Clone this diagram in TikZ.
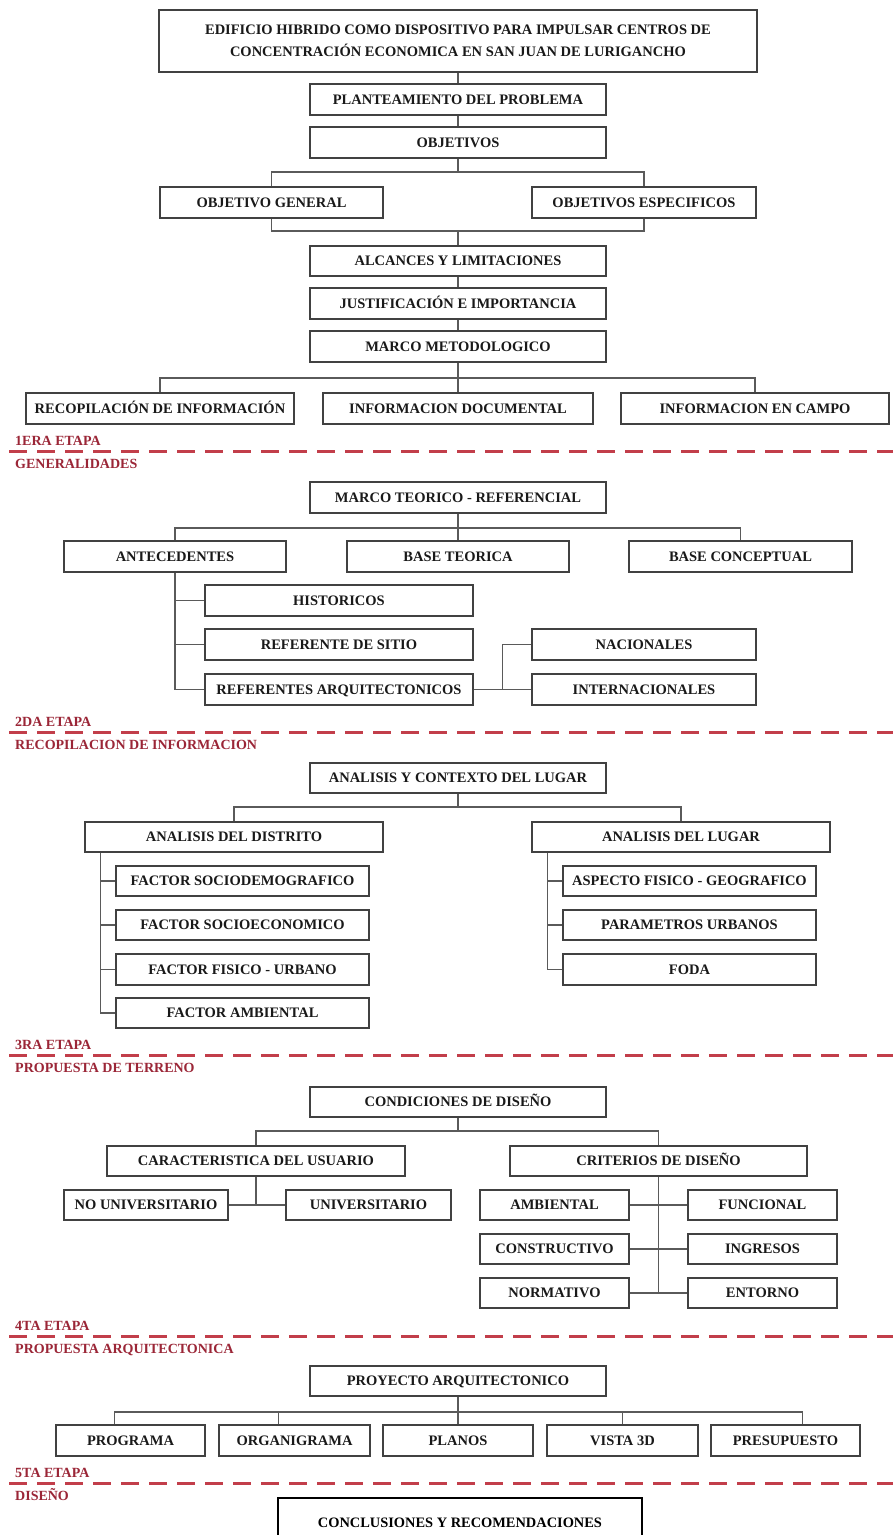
\documentclass[tikz,border=0pt]{standalone}
\usepackage{fontspec}
\setmainfont{Liberation Serif}
\usetikzlibrary{calc}
\definecolor{boxline}{RGB}{65,65,65}
\definecolor{conline}{RGB}{90,90,90}
\definecolor{etapared}{RGB}{155,38,55}
\definecolor{dashred}{RGB}{194,62,74}
\definecolor{txt}{RGB}{25,25,25}
\tikzset{
  boxst/.style={draw=boxline, line width=1.4pt, inner sep=0pt, align=center, text=txt,
    font=\bfseries\fontsize{14.5}{22}\selectfont},
  boxone/.style={boxst, text height=9.8pt, text depth=0pt},
  conn/.style={draw=conline, line width=1.4pt},
  etapa/.style={anchor=base west, inner sep=0pt, text=etapared,
    font=\bfseries\fontsize{14}{16}\selectfont},
  sepline/.style={draw=dashred, line width=3pt, dash pattern=on 18pt off 10pt},
  finbox/.style={draw=black, line width=1.1pt, inner sep=0pt, text=black,
    text height=9.8pt, text depth=0pt,
    font=\bfseries\fontsize{14.4}{17}\selectfont}
}
\newcommand{\mybox}[6]{\node[boxone, minimum width={(#4)-(#2)}, minimum height={(#5)-(#3)}] (#1) at ({((#2)+(#4))/2},{((#3)+(#5))/2}) {#6};}
\newcommand{\etapasep}[4]{%
  \coordinate (#1a) at (9,#2);
  \coordinate (#1b) at (893,#2);
  \draw[sepline] (#1a) -- (#1b);
  \node[etapa] (#1u) at (15,{#2-5.5}) {#3};
  \node[etapa] (#1l) at (15,{#2+17}) {#4};}

\begin{document}
\begin{tikzpicture}[x=1pt,y=-1pt]
\useasboundingbox[fill=white] (0,0) rectangle (893,1535);

% ---------- 1ra etapa ----------
\node[boxst, minimum width=598, minimum height=62] (title) at (458,41)
  {EDIFICIO HIBRIDO COMO DISPOSITIVO PARA IMPULSAR CENTROS DE\\CONCENTRACIÓN ECONOMICA EN SAN JUAN DE LURIGANCHO};
\mybox{plant}{310}{84}{606}{115}{PLANTEAMIENTO DEL PROBLEMA}
\mybox{obj}{310}{127}{606}{158}{OBJETIVOS}
\mybox{objgen}{160}{187}{383}{218}{OBJETIVO GENERAL}
\mybox{objesp}{532}{187}{756}{218}{OBJETIVOS ESPECIFICOS}
\mybox{alc}{310}{246}{606}{276}{ALCANCES Y LIMITACIONES}
\mybox{just}{310}{288}{606}{319}{JUSTIFICACIÓN E IMPORTANCIA}
\mybox{marco}{310}{331}{606}{362}{MARCO METODOLOGICO}
\mybox{recop}{26}{393}{294}{424}{RECOPILACIÓN DE INFORMACIÓN}
\mybox{infodoc}{323}{393}{593}{424}{INFORMACION DOCUMENTAL}
\mybox{infocampo}{621}{393}{889}{424}{INFORMACION EN CAMPO}

\coordinate (j1) at (458,172);
\coordinate (j2) at (458,231);
\coordinate (j3) at (458,378);
\draw[conn] (title.south) -- (plant.north);
\draw[conn] (plant.south) -- (obj.north);
\draw[conn] (obj.south) -- (j1);
\draw[conn] (objgen.north) |- (j1) -| (objesp.north);
\draw[conn] (objgen.south) |- (j2) -| (objesp.south);
\draw[conn] (j2) -- (alc.north);
\draw[conn] (alc.south) -- (just.north);
\draw[conn] (just.south) -- (marco.north);
\draw[conn] (marco.south) -- (j3);
\draw[conn] (recop.north) |- (j3) -| (infocampo.north);
\draw[conn] (j3) -- (infodoc.north);

\etapasep{s1}{451}{1ERA ETAPA}{GENERALIDADES}

% ---------- 2da etapa ----------
\mybox{marcoteo}{310}{482}{606}{513}{MARCO TEORICO - REFERENCIAL}
\mybox{antec}{64}{541}{286}{572}{ANTECEDENTES}
\mybox{baseteo}{347}{541}{569}{572}{BASE TEORICA}
\mybox{baseconc}{629}{541}{852}{572}{BASE CONCEPTUAL}
\mybox{hist}{205}{585}{473}{616}{HISTORICOS}
\mybox{refsitio}{205}{629}{473}{660}{REFERENTE DE SITIO}
\mybox{refarq}{205}{674}{473}{705}{REFERENTES ARQUITECTONICOS}
\mybox{nac}{532}{629}{756}{660}{NACIONALES}
\mybox{intl}{532}{674}{756}{705}{INTERNACIONALES}

\coordinate (j4) at (458,528);
\draw[conn] (marcoteo.south) -- (j4);
\draw[conn] (antec.north) |- (j4) -| (baseconc.north);
\draw[conn] (j4) -- (baseteo.north);
\draw[conn] (antec.south) |- (refarq.west);
\draw[conn] (antec.south |- hist.west) -- (hist.west);
\draw[conn] (antec.south |- refsitio.west) -- (refsitio.west);
\coordinate (j5) at ($(refarq.east)!0.5!(intl.west)$);
\draw[conn] (refarq.east) -- (intl.west);
\draw[conn] (nac.west) -| (j5);

\etapasep{s2}{732}{2DA ETAPA}{RECOPILACION DE INFORMACION}

% ---------- 3ra etapa ----------
\mybox{ctx}{310}{763}{606}{793}{ANALISIS Y CONTEXTO DEL LUGAR}
\mybox{distrito}{85}{822}{383}{852}{ANALISIS DEL DISTRITO}
\mybox{lugar}{532}{822}{830}{852}{ANALISIS DEL LUGAR}
\mybox{fsd}{116}{866}{369}{896}{FACTOR SOCIODEMOGRAFICO}
\mybox{fse}{116}{910}{369}{940}{FACTOR SOCIOECONOMICO}
\mybox{ffu}{116}{954}{369}{985}{FACTOR FISICO - URBANO}
\mybox{famb}{116}{998}{369}{1028}{FACTOR AMBIENTAL}
\mybox{asp}{563}{866}{816}{896}{ASPECTO FISICO - GEOGRAFICO}
\mybox{param}{563}{910}{816}{940}{PARAMETROS URBANOS}
\mybox{foda}{563}{954}{816}{985}{FODA}

\coordinate (j6) at (458,807);
\draw[conn] (ctx.south) -- (j6);
\draw[conn] (distrito.north) |- (j6) -| (lugar.north);
\coordinate (tl) at ([xshift=16pt]distrito.south west);
\draw[conn] (tl) |- (famb.west);
\draw[conn] (tl |- fsd.west) -- (fsd.west);
\draw[conn] (tl |- fse.west) -- (fse.west);
\draw[conn] (tl |- ffu.west) -- (ffu.west);
\coordinate (tr) at ([xshift=16pt]lugar.south west);
\draw[conn] (tr) |- (foda.west);
\draw[conn] (tr |- asp.west) -- (asp.west);
\draw[conn] (tr |- param.west) -- (param.west);

\etapasep{s3}{1055}{3RA ETAPA}{PROPUESTA DE TERRENO}

% ---------- 4ta etapa ----------
\mybox{cond}{310}{1087}{606}{1117}{CONDICIONES DE DISEÑO}
\mybox{caract}{107}{1146}{405}{1176}{CARACTERISTICA DEL USUARIO}
\mybox{crit}{510}{1146}{807}{1176}{CRITERIOS DE DISEÑO}
\mybox{nouniv}{64}{1190}{228}{1220}{NO UNIVERSITARIO}
\mybox{univ}{286}{1190}{451}{1220}{UNIVERSITARIO}
\mybox{amb}{480}{1190}{629}{1220}{AMBIENTAL}
\mybox{func}{688}{1190}{837}{1220}{FUNCIONAL}
\mybox{cons}{480}{1234}{629}{1264}{CONSTRUCTIVO}
\mybox{ingr}{688}{1234}{837}{1264}{INGRESOS}
\mybox{norm}{480}{1278}{629}{1308}{NORMATIVO}
\mybox{ent}{688}{1278}{837}{1308}{ENTORNO}

\coordinate (j7) at (458,1131);
\draw[conn] (cond.south) -- (j7);
\draw[conn] (caract.north) |- (j7) -| (crit.north);
\draw[conn] (caract.south) -- (caract.south |- nouniv.east);
\draw[conn] (nouniv.east) -- (univ.west);
\draw[conn] (crit.south) -- (crit.south |- norm.east);
\draw[conn] (amb.east) -- (func.west);
\draw[conn] (cons.east) -- (ingr.west);
\draw[conn] (norm.east) -- (ent.west);

\etapasep{s4}{1336}{4TA ETAPA}{PROPUESTA ARQUITECTONICA}

% ---------- 5ta etapa ----------
\mybox{proy}{310}{1366}{606}{1396}{PROYECTO ARQUITECTONICO}
\mybox{prog}{56}{1425}{205}{1456}{PROGRAMA}
\mybox{orga}{219}{1425}{370}{1456}{ORGANIGRAMA}
\mybox{planos}{383}{1425}{533}{1456}{PLANOS}
\mybox{vista}{547}{1425}{698}{1456}{VISTA 3D}
\mybox{presu}{711}{1425}{860}{1456}{PRESUPUESTO}

\coordinate (j8) at (458,1412);
\coordinate (d1) at ([xshift=-16pt]prog.north);
\coordinate (d2) at ([xshift=-16pt]orga.north);
\coordinate (d5) at ([xshift=17pt]presu.north);
\draw[conn] (proy.south) -- (j8);
\draw[conn] (d1) |- (j8) -| (d5);
\draw[conn] (d2) -- (d2 |- j8);
\draw[conn] (planos.north) -- (planos.north |- j8);
\draw[conn] (vista.north) -- (vista.north |- j8);

\etapasep{s5}{1483}{5TA ETAPA}{DISEÑO}

\node[finbox, minimum width=364, minimum height=50] (concl) at (460,1523) {CONCLUSIONES Y RECOMENDACIONES};
\end{tikzpicture}
\end{document}
